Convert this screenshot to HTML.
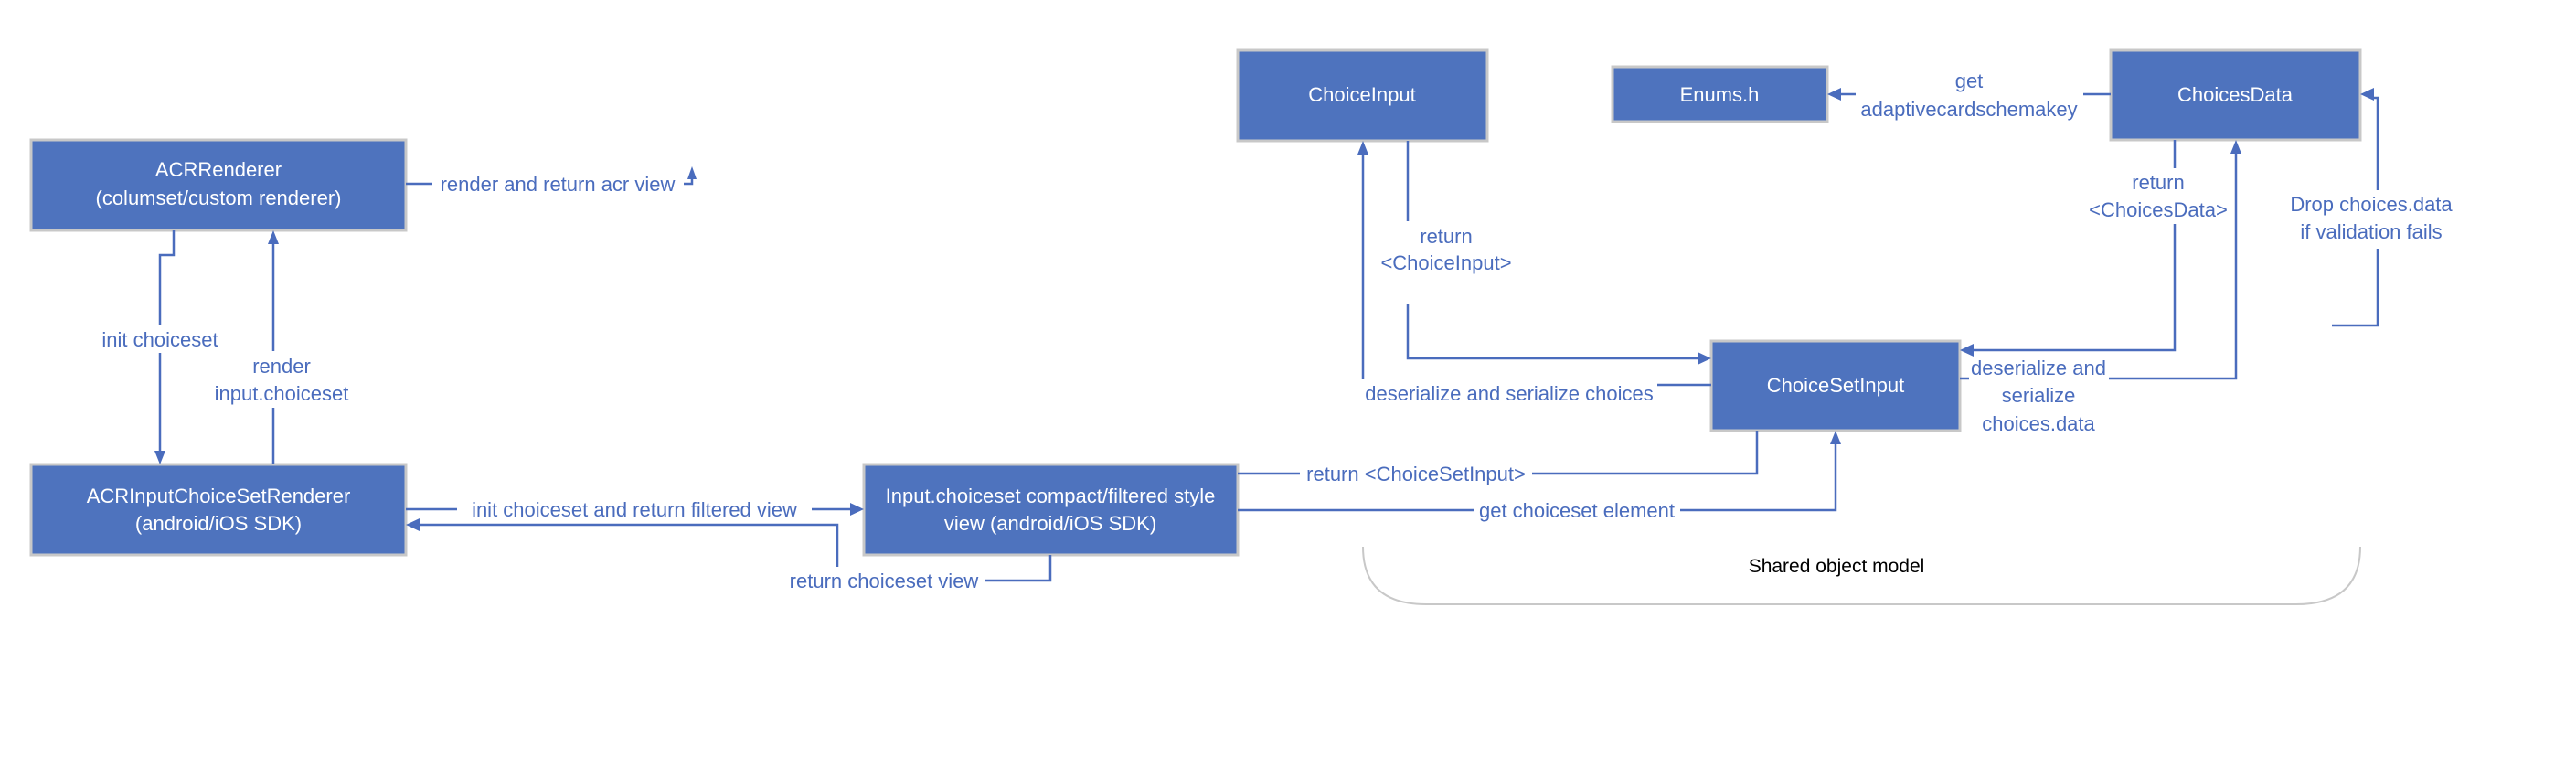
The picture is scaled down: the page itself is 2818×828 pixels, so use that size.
<!DOCTYPE html>
<html><head><meta charset="utf-8"><style>
html,body{margin:0;padding:0;background:#fff;}
svg{display:block;}
text{font-family:"Liberation Sans",Arial,sans-serif;font-size:22px;}
.b{fill:#4e73be;stroke:#c8c8c8;stroke-width:3;}
.w{fill:#fff;text-anchor:middle;}
.l{fill:#4a6cbd;text-anchor:middle;}
.c{fill:none;stroke:#4a6cbd;stroke-width:2.5;}
.a{fill:#4a6cbd;}
</style></head><body>
<svg width="2818" height="828" viewBox="0 0 2818 828" xmlns="http://www.w3.org/2000/svg">
<rect class="b" x="34" y="153" width="410" height="99"/>
<text class="w" x="239" y="193">ACRRenderer</text>
<text class="w" x="239" y="224">(columset/custom renderer)</text>

<rect class="b" x="34" y="508" width="410" height="99"/>
<text class="w" x="239" y="550">ACRInputChoiceSetRenderer</text>
<text class="w" x="239" y="580">(android/iOS SDK)</text>

<rect class="b" x="945" y="508" width="409" height="99"/>
<text class="w" x="1149" y="550">Input.choiceset compact/filtered style</text>
<text class="w" x="1149" y="580">view (android/iOS SDK)</text>

<rect class="b" x="1354" y="55" width="273" height="99"/>
<text class="w" x="1490" y="111">ChoiceInput</text>

<rect class="b" x="1764" y="73" width="235" height="60"/>
<text class="w" x="1881" y="111">Enums.h</text>

<rect class="b" x="2309" y="55" width="273" height="98"/>
<text class="w" x="2445" y="111">ChoicesData</text>

<rect class="b" x="1872" y="373" width="272" height="98"/>
<text class="w" x="2008" y="429">ChoiceSetInput</text>

<path class="c" d="M444 201 H473"/>
<text class="l" x="610" y="209">render and return acr view</text>
<path class="c" d="M748 201 H757 V192"/>
<polygon class="a" points="757,182 752,196 762,196"/>

<path class="c" d="M190 252 V279 H175 V356"/>
<path class="c" d="M175 386 V496"/>
<polygon class="a" points="175,508 169,493 181,493"/>
<text class="l" x="175" y="379">init choiceset</text>

<path class="c" d="M299 508 V446"/>
<path class="c" d="M299 384 V264"/>
<polygon class="a" points="299,252 293,267 305,267"/>
<text class="l" x="308" y="408">render</text>
<text class="l" x="308" y="438">input.choiceset</text>

<path class="c" d="M444 557 H500"/>
<path class="c" d="M888 557 H933"/>
<polygon class="a" points="945,557 930,550 930,564"/>
<text class="l" x="694" y="565">init choiceset and return filtered view</text>

<path class="c" d="M1149 607 V635 H1078"/>
<path class="c" d="M916 620 V574 H456"/>
<polygon class="a" points="444,574 459,567 459,581"/>
<text class="l" x="967" y="643">return choiceset view</text>

<path class="c" d="M1354 518 H1422"/>
<path class="c" d="M1676 518 H1922 V471"/>
<text class="l" x="1549" y="526">return &lt;ChoiceSetInput&gt;</text>

<path class="c" d="M1354 558 H1612"/>
<path class="c" d="M1838 558 H2008 V483"/>
<polygon class="a" points="2008,471 2002,486 2014,486"/>
<text class="l" x="1725" y="566">get choiceset element</text>

<path class="c" d="M1540 154 V242"/>
<path class="c" d="M1540 333 V392 H1860"/>
<polygon class="a" points="1872,392 1857,385 1857,399"/>
<text class="l" x="1582" y="266">return</text>
<text class="l" x="1582" y="295">&lt;ChoiceInput&gt;</text>

<path class="c" d="M1872 421 H1813"/>
<path class="c" d="M1491 415 V166"/>
<polygon class="a" points="1491,154 1485,169 1497,169"/>
<text class="l" x="1651" y="438">deserialize and serialize choices</text>

<path class="c" d="M2309 103 H2279"/>
<path class="c" d="M2030 103 H2011"/>
<polygon class="a" points="1999,103 2014,96 2014,110"/>
<text class="l" x="2154" y="96">get</text>
<text class="l" x="2154" y="127">adaptivecardschemakey</text>

<path class="c" d="M2379 153 V184"/>
<path class="c" d="M2379 245 V383 H2156"/>
<polygon class="a" points="2144,383 2159,376 2159,390"/>
<text class="l" x="2361" y="207">return</text>
<text class="l" x="2361" y="237">&lt;ChoicesData&gt;</text>

<path class="c" d="M2144 414 H2154"/>
<path class="c" d="M2307 414 H2446 V165"/>
<polygon class="a" points="2446,153 2440,168 2452,168"/>
<text class="l" x="2230" y="410">deserialize and</text>
<text class="l" x="2230" y="440">serialize</text>
<text class="l" x="2230" y="471">choices.data</text>

<path class="c" d="M2551 356 H2601 V272"/>
<path class="c" d="M2601 208 V107 H2594"/>
<polygon class="a" points="2582,103 2597,96 2597,110"/>
<text class="l" x="2594" y="231">Drop choices.data</text>
<text class="l" x="2594" y="261">if validation fails</text>

<path d="M1491 598 Q1491 661 1560 661 H2512 Q2582 661 2582 598" fill="none" stroke="#c8c8c8" stroke-width="2"/>
<text x="2009" y="626" style="fill:#000;text-anchor:middle;font-size:21px">Shared object model</text>
</svg>
</body></html>
